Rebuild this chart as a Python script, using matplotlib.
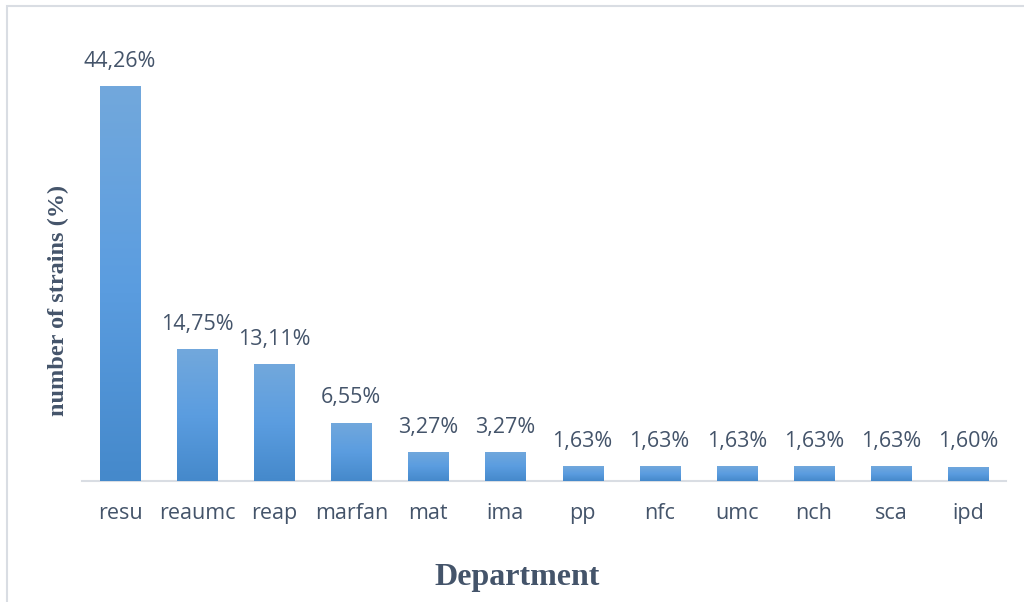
import matplotlib.pyplot as plt
import numpy as np
from matplotlib.patches import Rectangle
from matplotlib.colors import LinearSegmentedColormap

departments = ['resu', 'reaumc', 'reap', 'marfan', 'mat', 'ima',
               'pp', 'nfc', 'umc', 'nch', 'sca', 'ipd']
strains_pct = [44.26, 14.75, 13.11, 6.55, 3.27, 3.27,
               1.63, 1.63, 1.63, 1.63, 1.63, 1.60]

text_col = '#44546a'
fig = plt.figure(figsize=(10.24, 6.02), dpi=100)
ax = fig.add_axes([81.5 / 1024, 1 - 481 / 602, 925 / 1024, 446 / 602])

x = np.arange(len(departments))
bars = ax.bar(x, strains_pct, width=0.52, color='#5b9bd5', zorder=2)

# vertical gradient inside every bar
grad = LinearSegmentedColormap.from_list('g', ['#4589cb', '#5b9de0', '#72a8dc'])
g = np.linspace(0, 1, 256).reshape(-1, 1)
for b in bars:
    im = ax.imshow(g, cmap=grad, origin='lower', aspect='auto',
                   extent=[b.get_x(), b.get_x() + b.get_width(), 0, b.get_height()],
                   zorder=3)
    im.set_clip_path(b)
    b.set_alpha(0)

for xi, v in zip(x, strains_pct):
    ax.text(xi, v + 1.6, f'{v:.2f}%'.replace('.', ','), ha='center', va='bottom',
            fontsize=15.5, color=text_col, family='Open Sans')

ax.set_xlim(-0.5, len(departments) - 0.5)
ax.set_ylim(0, 50)
ax.set_xticks(x)
ax.set_xticklabels(departments, fontsize=15.5, color=text_col, family='Open Sans')
ax.tick_params(axis='x', length=0, pad=16)
ax.set_yticks([])
for s in ['top', 'right', 'left']:
    ax.spines[s].set_visible(False)
ax.spines['bottom'].set_color('#d9dde3')
ax.spines['bottom'].set_linewidth(1.5)

fig.text(517 / 1024, 1 - 577 / 602, 'Department', ha='center', va='center',
         fontsize=23, fontweight='bold', color=text_col, family='Liberation Serif')
fig.text(58 / 1024, 1 - 300 / 602, 'number of strains (%)', ha='center', va='center',
         rotation=90, fontsize=17.5, fontweight='bold', color=text_col,
         family='Liberation Serif')

# chart frame
fig.patches.append(Rectangle((6.5 / 1024, -0.1), 1.2, 1 - 5.5 / 602 + 0.1,
                             transform=fig.transFigure, fill=False,
                             edgecolor='#d9dde3', linewidth=1.5))

fig.savefig('out.png', dpi=100)
